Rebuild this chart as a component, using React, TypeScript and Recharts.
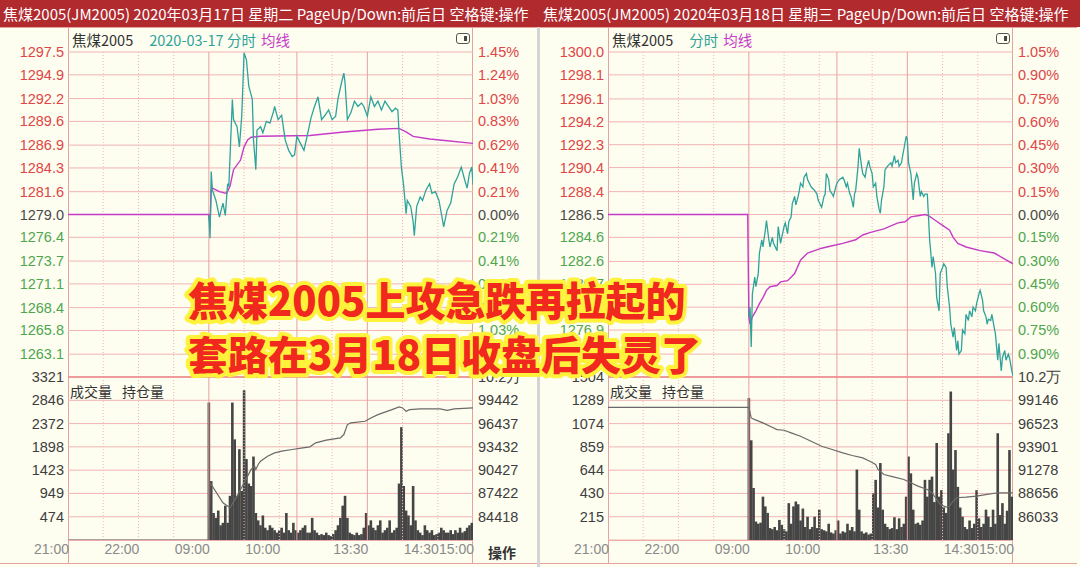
import React from "react";
import { ComposedChart, Line, Bar, XAxis, YAxis, CartesianGrid, ReferenceLine } from "recharts";

// trading-minute index: 0 = 21:00 (night), 120 = 09:00, 345 = 15:00
const timeTicks = [0, 60, 120, 180, 255, 315, 345];
const timeLabels = ["21:00", "22:00", "09:00", "10:00", "13:30", "14:30", "15:00"];
const sessionLines = [120, 195, 255];
const halfHourLines = [30, 60, 90, 150, 180, 225, 285, 315];

// ---- 2020-03-17 ----
const priceTicks17 = [1297.5, 1294.9, 1292.2, 1289.6, 1286.9, 1284.3, 1281.6, 1279.0, 1276.4, 1273.7, 1271.1, 1268.4, 1265.8, 1263.1];
const pctLabels17 = ["1.45%", "1.24%", "1.03%", "0.83%", "0.62%", "0.41%", "0.21%", "0.00%", "0.21%", "0.41%", "0.62%", "0.83%", "1.03%", "1.24%"];
const p17T = [120,121,122,123,126,129,132,134,136,137,140,141,144,146,148,150,152,154,157,158,160,161,164,166,169,172,175,176,179,182,185,188,191,193,195,198,201,204,207,210,213,216,219,222,225,228,230,233,235,236,238,241,244,247,250,252,255,258,261,264,267,270,273,276,279,281,282,284,286,288,289,292,294,295,297,300,302,305,308,310,313,316,319,320,323,326,329,332,335,338,340,342,344,345];
const p17V = [1278.9,1276.3,1283.9,1281.8,1280.6,1278.7,1280.3,1278.9,1282.5,1282.2,1292.1,1289.8,1289.0,1286.7,1290.2,1297.4,1296.6,1293.6,1292.1,1287.5,1284.1,1288.6,1289.0,1288.3,1289.6,1289.4,1290.7,1291.3,1289.8,1290.3,1287.5,1286.3,1285.6,1285.8,1287.9,1287.1,1286.3,1288.1,1290.0,1291.3,1292.4,1289.8,1290.3,1290.9,1289.8,1290.2,1292.2,1294.0,1295.1,1294.0,1289.8,1290.6,1291.9,1291.3,1291.7,1291.3,1290.2,1292.4,1291.3,1291.9,1290.9,1291.9,1291.3,1290.7,1291.1,1290.9,1288.3,1284.4,1282.2,1279.1,1280.6,1279.9,1278.2,1276.6,1279.9,1281.0,1280.6,1281.8,1282.5,1281.4,1281.6,1280.6,1278.4,1277.6,1279.5,1280.3,1282.5,1283.3,1284.4,1282.9,1282.0,1283.7,1284.4,1282.4];
const a17T = [0,120,121,122,123,129,135,138,141,147,150,153,156,164,206,235,264,282,288,294,308,323,345];
const a17V = [1279.0,1279.0,1277.6,1281.8,1282.0,1281.6,1281.4,1282.2,1284.1,1285.2,1286.7,1287.5,1287.8,1287.9,1288.0,1288.4,1288.7,1288.8,1288.4,1287.9,1287.6,1287.4,1287.1];
const vol17 = [2800,1200,550,450,600,300,350,700,350,900, 2800,2050,900,1850,1000,3050,1650,1150,1100,1700, 550,400,300,500,250,200,300,250,200,150, 200,250,150,550,200,150,350,200,150,200, 250,300,150,150,450,200,150,100,120,100, 150,100,80,120,200,300,450,700,900,450, 150,120,100,150,100,120,250,550,300,400, 250,200,300,400,150,200,250,400,150,200, 250,1150,2300,1100,600,500,300,1100,400,200, 150,100,300,200,150,200,100,120,150,250, 200,150,150,200,120,200,150,250,150,180, 250,300,350];
const volTicks17 = [3321, 2846, 2372, 1898, 1423, 949, 474];
const oi17T = [0,120,121,132,138,144,150,153,156,159,160,162,164,170,176,182,191,200,206,211,220,232,235,238,241,253,258,264,276,282,285,288,291,300,317,323,329,345];
const oi17V = [81413,81413,88795,86220,85576,87078,88795,89654,90512,90942,90512,91156,91586,92229,92659,92873,93088,93303,93432,93947,94290,94590,95020,96308,96523,96737,97167,97596,98240,98584,98455,98025,98240,98326,98326,98154,98326,98455];
const oiTicks17 = [102447, 99442, 96437, 93432, 90427, 87422, 84418];
const oiLabels17 = ["10.2万", "99442", "96437", "93432", "90427", "87422", "84418"];

// ---- 2020-03-18 ----
const priceTicks18 = [1300.0, 1298.1, 1296.1, 1294.2, 1292.3, 1290.4, 1288.4, 1286.5, 1284.6, 1282.6, 1280.7, 1278.8, 1276.9, 1274.9];
const pctLabels18 = ["1.05%", "0.90%", "0.75%", "0.60%", "0.45%", "0.30%", "0.15%", "0.00%", "0.15%", "0.30%", "0.45%", "0.60%", "0.75%", "0.90%"];
const p18T = [120,121,122,123,125,126,128,129,131,132,134,135,137,138,140,141,144,145,147,148,150,151,153,154,156,157,159,160,162,163,164,166,167,169,170,173,176,178,179,182,184,185,186,188,189,191,192,194,195,197,200,201,203,204,206,207,209,210,211,213,214,216,217,219,220,222,223,225,226,228,229,231,232,233,235,236,238,241,242,244,245,247,248,250,251,252,254,255,256,258,259,260,261,263,264,266,267,269,270,272,273,274,275,276,277,279,280,282,283,285,286,288,289,291,292,294,295,297,298,299,301,302,304,305,307,308,310,311,313,314,316,317,319,320,322,323,324,326,327,329,330,332,333,335,336,338,339,341,342,344,345];
const p18V = [1278.0,1278.8,1275.5,1279.9,1281.3,1280.5,1281.6,1283.3,1284.4,1283.8,1285.2,1286.0,1284.4,1283.8,1284.6,1284.1,1283.5,1285.5,1284.1,1284.6,1285.5,1285.8,1284.9,1285.9,1286.3,1287.4,1288.0,1287.3,1288.0,1288.5,1289.1,1288.8,1289.6,1289.9,1289.4,1288.8,1288.5,1288.2,1287.7,1287.1,1288.0,1288.2,1289.9,1289.4,1288.5,1288.2,1288.0,1288.8,1289.1,1289.4,1289.6,1289.4,1288.8,1289.1,1288.2,1288.0,1287.1,1288.2,1288.5,1290.5,1292.0,1290.5,1289.9,1289.6,1290.2,1291.0,1290.5,1289.9,1288.8,1289.1,1288.0,1286.9,1286.6,1287.7,1288.8,1290.2,1290.5,1290.8,1290.5,1291.4,1290.8,1291.0,1290.5,1290.8,1291.4,1291.9,1293.0,1292.7,1290.8,1289.9,1288.8,1287.7,1289.1,1289.9,1289.6,1288.0,1288.4,1288.0,1288.2,1288.2,1286.3,1284.4,1283.3,1282.1,1283.0,1281.6,1279.6,1278.5,1281.6,1282.1,1282.4,1282.1,1280.5,1278.8,1277.4,1276.3,1277.1,1275.2,1276.0,1274.9,1275.2,1276.9,1276.6,1278.2,1277.7,1278.5,1278.0,1278.8,1278.5,1279.1,1279.9,1280.2,1279.4,1278.5,1278.0,1277.4,1277.8,1277.7,1278.2,1277.1,1276.6,1274.4,1275.8,1273.5,1274.6,1275.2,1274.4,1274.9,1274.6,1273.5,1273.1];
const a18T = [0,119,120,121,123,126,129,132,135,138,144,147,153,159,164,170,176,182,191,200,211,217,223,235,247,253,258,264,270,273,279,285,291,294,298,305,317,329,338,345];
const a18V = [1286.5,1286.5,1278.0,1277.4,1278.0,1278.5,1279.1,1279.6,1280.2,1280.5,1280.6,1280.9,1281.0,1281.6,1282.7,1283.3,1283.5,1283.7,1283.9,1284.1,1284.4,1284.8,1285.0,1285.3,1285.8,1285.9,1286.3,1286.4,1286.5,1286.4,1286.0,1285.6,1285.2,1284.6,1284.1,1283.8,1283.5,1283.3,1282.8,1282.4];
const vol18 = [1310,920,480,170,150,160,400,310,250,110, 100,120,90,185,140,100,80,340,150,310, 355,330,180,290,120,215,100,120,215,110, 280,100,90,80,150,70,60,90,180,60, 80,70,150,90,120,80,650,280,80,60, 70,50,60,430,555,300,710,280,150,120, 100,110,210,100,200,120,150,400,770,615, 280,150,160,140,180,555,400,555,585,350, 895,400,460,300,250,985,1370,650,830,490, 300,215,120,100,180,110,150,460,200,120, 150,280,215,120,280,150,985,230,340,150, 270,830,400];
const volTicks18 = [1504, 1289, 1074, 859, 644, 430, 215];
const oi18T = [0,120,122,125,132,138,144,150,156,164,173,182,191,200,208,217,223,228,230,235,244,252,258,264,272,276,280,283,288,291,294,297,305,314,323,332,345];
const oi18V = [98359,98359,97160,96973,96598,96224,95849,95774,95474,95099,94537,93975,93600,93226,92926,92664,92289,91914,91352,90790,90490,90228,89853,89478,89104,88729,87980,87417,87117,87237,87799,88173,88248,88361,88548,88729,88729];
const oiTicks18 = [101769, 99146, 96523, 93901, 91278, 88656, 86033];
const oiLabels18 = ["10.2万", "99146", "96523", "93901", "91278", "88656", "86033"];

const VOL_START = 120; // first day-session minute, bars every 2 minutes
const VOL_STEP = 2;

const FONT = '"Liberation Sans", Arial, sans-serif';
const CJK = '"Noto Sans CJK SC", "Noto Sans", sans-serif';
const UP = "#E04646";
const DOWN = "#4FA64F";
const FLAT = "#4A4A4A";
const GRID = "#F2B4B4";
const FRAME = "#E8A0A0";
const BG = "#FDFDF0";
const BAR_W = 2.6;

type PanelProps = {
  left: number;
  title: string;
  showDate: boolean;
  priceT: number[];
  priceV: number[];
  avgT: number[];
  avgV: number[];
  priceTicks: number[];
  pctLabels: string[];
  prevClose: number;
  priceDomain: [number, number];
  vol: number[];
  volTicks: number[];
  oiT: number[];
  oiV: number[];
  oiTicks: number[];
  oiLabels: string[];
  oiDomain: [number, number];
  showOp: boolean;
};

const colorFor = (v: number, base: number) => (v > base + 0.01 ? UP : v < base - 0.01 ? DOWN : FLAT);

// thin volume stick centred on the bar's own x position
const VolStick = (p: any) => {
  if (!p.height || p.height <= 0) return null;
  return <rect x={p.x + p.width / 2 - BAR_W / 2} y={p.y} width={BAR_W} height={p.height} fill="#454545" />;
};

function Panel(props: PanelProps) {
  const priceData = props.priceT.map((t, i) => ({ t, p: props.priceV[i] }));
  const avgData = props.avgT.map((t, i) => ({ t, p: props.avgV[i] }));
  const volData = props.vol.map((v, i) => ({ t: VOL_START + i * VOL_STEP, v }));
  const oiData = props.oiT.map((t, i) => ({ t, oi: props.oiV[i] }));

  const priceTick = ({ x, y, payload }: any) => (
    <text x={x} y={y} dy={5} textAnchor="end" fontSize={14.5} fontFamily={FONT} fill={colorFor(payload.value, props.prevClose)}>
      {Number(payload.value).toFixed(1)}
    </text>
  );
  const pctTick = ({ x, y, payload }: any) => (
    <text x={x} y={y} dy={5} textAnchor="start" fontSize={14.5} fontFamily={FONT} fill={colorFor(payload.value, props.prevClose)}>
      {props.pctLabels[props.priceTicks.indexOf(payload.value)]}
    </text>
  );
  const volTick = ({ x, y, payload }: any) => (
    <text x={x} y={y} dy={5} textAnchor="end" fontSize={14.5} fontFamily={FONT} fill="#3E3E3E">
      {payload.value}
    </text>
  );
  const oiTick = ({ x, y, payload }: any) => (
    <text x={x} y={y} dy={5} textAnchor="start" fontSize={14.5} fontFamily={FONT} fill="#3E3E3E">
      {props.oiLabels[props.oiTicks.indexOf(payload.value)]}
    </text>
  );
  const timeTick = ({ x, y, payload }: any) => (
    <text x={x + 1} y={y} dy={12} textAnchor="end" fontSize={14} fontFamily={FONT} fill="#8A8A8A">
      {timeLabels[timeTicks.indexOf(payload.value)]}
    </text>
  );

  const vLines = (
    <>
      {halfHourLines.map((t) => (
        <ReferenceLine key={"h" + t} x={t} stroke={GRID} strokeDasharray="1 2" />
      ))}
      {sessionLines.map((t) => (
        <ReferenceLine key={"s" + t} x={t} stroke={FRAME} />
      ))}
    </>
  );

  return (
    <div style={{ position: "absolute", left: props.left, top: 0, width: 537, height: 567 }}>
      <div style={{ position: "absolute", left: 3, top: 0, height: 27, lineHeight: "27px", color: "#fff", fontSize: 15, fontFamily: CJK, whiteSpace: "nowrap" }}>
        {props.title}
      </div>
      <div style={{ position: "absolute", left: 0, top: 27, width: 537, height: 1, background: FRAME }} />
      <div style={{ position: "absolute", left: 68, top: 27, width: 405, height: 536, borderLeft: `1px solid ${FRAME}`, borderRight: `1px solid ${FRAME}`, boxSizing: "border-box" }} />
      <div style={{ position: "absolute", left: 0, top: 563, width: 537, height: 1, background: FRAME }} />
      <div style={{ position: "absolute", left: 68, top: 540, width: 405, height: 1, background: FRAME }} />

      <div style={{ position: "absolute", left: 0, top: 40 }}>
        <ComposedChart width={537} height={337} margin={{ top: 12, right: 0, bottom: 0, left: 0 }}>
          <CartesianGrid vertical={false} stroke={GRID} />
          <XAxis type="number" dataKey="t" domain={[0, 345]} allowDataOverflow hide />
          <YAxis domain={props.priceDomain} ticks={props.priceTicks} interval={0} width={68} axisLine={false} tickLine={false} tickSize={0} tickMargin={4} tick={priceTick} allowDataOverflow />
          <YAxis yAxisId="pct" orientation="right" domain={props.priceDomain} ticks={props.priceTicks} interval={0} width={64} axisLine={false} tickLine={false} tickSize={0} tickMargin={5} tick={pctTick} allowDataOverflow />
          {vLines}
          <Line data={avgData} dataKey="p" type="linear" stroke="#C63CC6" strokeWidth={1.4} dot={false} isAnimationActive={false} />
          <Line data={priceData} dataKey="p" type="linear" stroke="#2FA39B" strokeWidth={1.3} dot={false} isAnimationActive={false} />
        </ComposedChart>
      </div>

      <div style={{ position: "absolute", left: 0, top: 365 }}>
        <ComposedChart data={volData} width={537} height={199} margin={{ top: 12, right: 0, bottom: 0, left: 0 }}>
          <CartesianGrid vertical={false} stroke={GRID} />
          <XAxis type="number" dataKey="t" domain={[0, 345]} ticks={timeTicks} interval={0} height={24} axisLine={false} tickLine={false} tickSize={0} tickMargin={2} tick={timeTick} allowDataOverflow />
          <YAxis domain={[0, props.volTicks[0]]} ticks={props.volTicks} interval={0} width={68} axisLine={false} tickLine={false} tickSize={0} tickMargin={4} tick={volTick} allowDataOverflow />
          <YAxis yAxisId="oi" orientation="right" domain={props.oiDomain} ticks={props.oiTicks} interval={0} width={64} axisLine={false} tickLine={false} tickSize={0} tickMargin={5} tick={oiTick} allowDataOverflow />
          {vLines}
          <ReferenceLine y={props.volTicks[0]} stroke="#EC8A8A" strokeWidth={1.6} />
          <Bar dataKey="v" fill="#454545" shape={VolStick} isAnimationActive={false} />
          <Line yAxisId="oi" data={oiData} dataKey="oi" type="linear" stroke="#6A6A6A" strokeWidth={1.2} dot={false} isAnimationActive={false} />
        </ComposedChart>
      </div>

      <div style={{ position: "absolute", left: 72, top: 31, fontSize: 14.5, fontFamily: CJK, whiteSpace: "nowrap", lineHeight: "18px" }}>
        <span style={{ color: "#333" }}>焦煤2005</span>
        <span style={{ color: "#2FA39B", marginLeft: 16 }}>{props.showDate ? "2020-03-17 " : ""}分时</span>
        <span style={{ color: "#C63CC6", marginLeft: 5 }}>均线</span>
      </div>
      <div style={{ position: "absolute", left: 456, top: 33, width: 14, height: 11, border: "1.5px solid #555", borderRadius: 3, boxSizing: "border-box" }}>
        <div style={{ position: "absolute", right: 2, top: 1.5, width: 3, height: 5, background: "#444" }} />
      </div>
      <div style={{ position: "absolute", left: 70, top: 381, fontSize: 14, fontFamily: CJK, color: "#333", whiteSpace: "nowrap" }}>
        成交量<span style={{ marginLeft: 10 }}>持仓量</span>
      </div>
      {props.showOp && (
        <div style={{ position: "absolute", left: 488, top: 542, fontSize: 14, fontWeight: 700, fontFamily: CJK, color: "#333" }}>操作</div>
      )}
    </div>
  );
}

export default function App() {
  return (
    <div style={{ position: "relative", width: 1080, height: 567, background: BG, overflow: "hidden" }}>
      <style>{"body{margin:0}"}</style>
      <div style={{ position: "absolute", left: 0, top: 0, width: 1080, height: 27, background: "#B02A2E" }} />
      <Panel
        left={0}
        title="焦煤2005(JM2005) 2020年03月17日 星期二 PageUp/Down:前后日 空格键:操作"
        showDate
        priceT={p17T}
        priceV={p17V}
        avgT={a17T}
        avgV={a17V}
        priceTicks={priceTicks17}
        pctLabels={pctLabels17}
        prevClose={1279.0}
        priceDomain={[1260.5, 1297.5]}
        vol={vol17}
        volTicks={volTicks17}
        oiT={oi17T}
        oiV={oi17V}
        oiTicks={oiTicks17}
        oiLabels={oiLabels17}
        oiDomain={[81413, 102447]}
        showOp
      />
      <div style={{ position: "absolute", left: 537, top: 27, width: 3, height: 540, background: "#D4D4D4" }} />
      <Panel
        left={540}
        title="焦煤2005(JM2005) 2020年03月18日 星期三 PageUp/Down:前后日 空格键:操作"
        showDate={false}
        priceT={p18T}
        priceV={p18V}
        avgT={a18T}
        avgV={a18V}
        priceTicks={priceTicks18}
        pctLabels={pctLabels18}
        prevClose={1286.5}
        priceDomain={[1273.0, 1300.0]}
        vol={vol18}
        volTicks={volTicks18}
        oiT={oi18T}
        oiV={oi18V}
        oiTicks={oiTicks18}
        oiLabels={oiLabels18}
        oiDomain={[83410, 101769]}
        showOp={false}
      />
      <svg width={1080} height={567} style={{ position: "absolute", left: 0, top: 0, pointerEvents: "none" }}>
        <g fontFamily={CJK} fontWeight={900} fontSize={40} fill="#F0281E" stroke="#FFF23A" strokeWidth={8} strokeLinejoin="round" paintOrder="stroke">
          <text x={188} y={316}>焦煤2005上攻急跌再拉起的</text>
          <text x={188} y={370}>套路在3月18日收盘后失灵了</text>
        </g>
      </svg>
    </div>
  );
}
